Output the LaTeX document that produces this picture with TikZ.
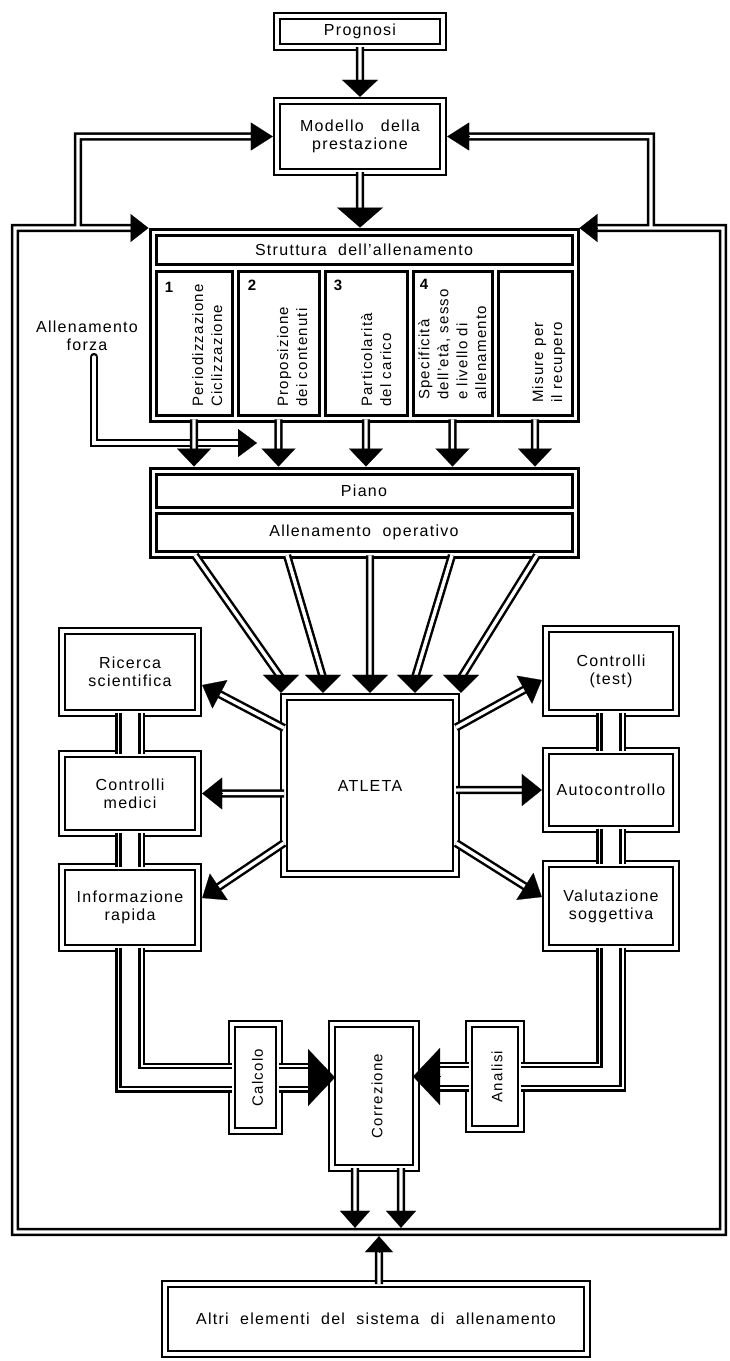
\documentclass[tikz,border=0pt]{standalone}
\usepackage{fontspec}
\setmainfont{Liberation Sans}[LetterSpace=8]
\usetikzlibrary{arrows.meta,calc}
\newcommand\labfont{\fontsize{16}{18}\selectfont}
\newcommand\vlabfont{\fontsize{15}{19}\selectfont}
\begin{document}
\begin{tikzpicture}[x=1pt,y=-1pt,
  dbox/.style={draw,double,line width=2.6pt,double distance=3.2pt,fill=white,inner sep=0pt,outer sep=0pt,align=center,font=\labfont},
  sbox/.style={draw,line width=3pt,fill=white,inner sep=0pt,outer sep=0pt,align=center,font=\labfont},
  wh/.style 2 args={minimum width=#1pt,minimum height=#2pt},
  pipe/.style={draw,double,line width=2.5pt,double distance=3.4pt},
  widepipe/.style={preaction={draw=black,line width=30pt},preaction={draw=white,line width=25pt},preaction={draw=black,line width=21.5pt},draw=white,line width=16.5pt},
  vlab/.style={rotate=90,anchor=north west,font=\vlabfont,align=left,inner sep=0pt},
  rlab/.style={rotate=90,font=\vlabfont,inner sep=0pt},
  num/.style={font=\vlabfont\bfseries,inner sep=0pt},
  lab/.style={font=\labfont,align=center,inner sep=0pt},
  ah/.style 2 args={-{Triangle[width=#1pt,length=#2pt]},line width=0.2pt},
]
\fill[white] (0,0) rectangle (730,1361);
\useasboundingbox (0,0) rectangle (730,1361);

% ---------- boxes ----------
\node[dbox,wh={166}{31}] (prog) at (360,31.5) {Prognosi};
\node[dbox,wh={166}{71}] (mod) at (360,136.5) {Modello\ \ \ della\\prestazione};

\node[sbox,wh={428}{192}] (strut) at (364,325) {};
\node[sbox,wh={416}{29}] (title) at (364,249.5) {Struttura\ \ dell'allenamento};
\node[sbox,wh={76}{144}] (col1) at (194,343) {};
\node[sbox,wh={81}{144}] (col2) at (278.5,343) {};
\node[sbox,wh={82}{144}] (col3) at (366,343) {};
\node[sbox,wh={79}{144}] (col4) at (452.5,343) {};
\node[sbox,wh={74}{144}] (col5) at (535,343) {};
\node[num] (n1) at (169,287) {1};
\node[num] (n2) at (252,285) {2};
\node[num] (n3) at (338,285) {3};
\node[num] (n4) at (424,284) {4};
\node[vlab] (v1) at (192,407) {Periodizzazione\\Ciclizzazione};
\node[vlab] (v2) at (277,407) {Proposizione\\dei contenuti};
\node[vlab] (v3) at (361,407) {Particolarità\\del carico};
\node[vlab] (v4) at (418,400) {Specificità\\dell'età, sesso\\e livello di\\allenamento};
\node[vlab] (v5) at (532,403) {Misure per\\il recupero};

\node[lab] (forza) at (87,336) {Allenamento\\forza};

\node[sbox,wh={428}{89}] (piano) at (364,512.5) {};
\node[sbox,wh={416}{33}] (pbar) at (364,490.5) {Piano};
\node[sbox,wh={416}{38}] (obar) at (364,532) {Allenamento\ \ operativo};

\node[dbox,wh={172}{177}] (atleta) at (370,785.5) {ATLETA};
\node[dbox,wh={136}{82}] (ric) at (130,672) {Ricerca\\scientifica};
\node[dbox,wh={136}{79}] (med) at (130,793.5) {Controlli\\medici};
\node[dbox,wh={136}{81}] (info) at (130,907.5) {Informazione\\rapida};
\node[dbox,wh={130}{84}] (test) at (611,671) {Controlli\\(test)};
\node[dbox,wh={130}{78}] (auto) at (611,790) {Autocontrollo};
\node[dbox,wh={130}{84}] (valu) at (611,906) {Valutazione\\soggettiva};

\node[dbox,wh={47}{107}] (calc) at (255.5,1077.5) {};
\node[dbox,wh={84}{144}] (corr) at (374,1096) {};
\node[dbox,wh={52}{105}] (anal) at (495,1076.5) {};
\node[rlab] (lcalc) at ($(calc.center)+(2,0)$) {Calcolo};
\node[rlab] (lcorr) at ($(corr.center)+(3,0)$) {Correzione};
\node[rlab] (lanal) at ($(anal.center)+(2,0)$) {Analisi};

\node[dbox,wh={422}{70}] (altri) at (376,1319) {Altri\ \ elementi\ \ del\ \ sistema\ \ di\ \ allenamento};

% ---------- coordinates ----------
\coordinate (fTL) at (15,228);
\coordinate (fBL) at (15,1232);
\coordinate (fBR) at (723,1232);
\coordinate (fTR) at (723,228);
\coordinate (lbr) at (78,228);
\coordinate (rbr) at (651,228);
\coordinate (fzs) at (94,357);
\coordinate (fzt) at (257,443);

\coordinate (t1) at ($(prog.south |- mod.north)+(0,-4.2)$);
\coordinate (t2) at ($(mod.south |- strut.north)+(0,-1.5)$);
\coordinate (t3) at ($(strut.west |- fTL)+(-1.5,0)$);
\coordinate (t4) at ($(strut.east |- fTR)+(1.5,0)$);
\coordinate (t5) at ($(mod.west)+(-4.2,0)$);
\coordinate (t6) at ($(mod.east)+(4.2,0)$);
\foreach \i in {1,...,5}{
  \coordinate (c\i) at ($(piano.north -| col\i)+(0,-1.5)$);
}
\coordinate (a1) at ($(atleta.north)+(-89,-4.2)$);
\coordinate (a2) at ($(atleta.north)+(-47,-4.2)$);
\coordinate (a3) at ($(atleta.north)+(0,-4.2)$);
\coordinate (a4) at ($(atleta.north)+(45,-4.2)$);
\coordinate (a5) at ($(atleta.north)+(91,-4.2)$);
\coordinate (p1) at ($(piano.south)+(-169,-1.7)$);
\coordinate (p2) at ($(piano.south)+(-77,-1.7)$);
\coordinate (p3) at ($(piano.south)+(6,-1.7)$);
\coordinate (p4) at ($(piano.south)+(88,-1.7)$);
\coordinate (p5) at ($(piano.south)+(173,-1.7)$);

\coordinate (s18) at ($(atleta.west)+(0,-57.5)$);
\coordinate (e18) at ($(ric.east)+(4.2,13)$);
\coordinate (s19) at (atleta.west |- med.east);
\coordinate (e19) at ($(med.east)+(4.2,0)$);
\coordinate (s20) at ($(atleta.west)+(0,57.5)$);
\coordinate (e20) at ($(info.east)+(4.2,-9.5)$);
\coordinate (s21) at ($(atleta.east)+(0,-58)$);
\coordinate (e21) at ($(test.west)+(-4.2,9)$);
\coordinate (s22) at (atleta.east |- auto.west);
\coordinate (e22) at ($(auto.west)+(-4.2,0)$);
\coordinate (s23) at ($(atleta.east)+(0,57.5)$);
\coordinate (e23) at ($(valu.west)+(-4.2,-9)$);

\coordinate (t24) at ($(corr.west |- calc.east)+(3,0)$);
\coordinate (t25) at ($(corr.east |- anal.west)+(-3,0)$);
\coordinate (s26) at ($(corr.south)+(-19,0)$);
\coordinate (t26) at ($(s26 |- fBL)+(0,-4.2)$);
\coordinate (s27) at ($(corr.south)+(27,0)$);
\coordinate (t27) at ($(s27 |- fBL)+(0,-4.2)$);
\coordinate (s28) at ($(altri.north)+(3,0)$);
\coordinate (t28) at ($(s28 |- fBL)+(0,4.2)$);

% ---------- pipes ----------
\draw[pipe,line cap=round] (fzs) |- ($(fzt)+(-16,0)$);

\draw[pipe]
  ($(t3)+(-15,0)$) -- (fTL) -- (fBL) -- (fBR) -- (fTR) -- ($(t4)+(15,0)$)
  (lbr) -- (lbr |- t5) -- ($(t5)+(-19,0)$)
  (rbr) -- (rbr |- t6) -- ($(t6)+(19,0)$)
  (prog.south) -- ($(t1)+(0,-14)$)
  (mod.south) -- ($(t2)+(0,-17)$)
  ($(strut.south -| col1)+(0,-1.7)$) -- ($(c1)+(0,-15)$)
  ($(strut.south -| col2)+(0,-1.7)$) -- ($(c2)+(0,-15)$)
  ($(strut.south -| col3)+(0,-1.7)$) -- ($(c3)+(0,-15)$)
  ($(strut.south -| col4)+(0,-1.7)$) -- ($(c4)+(0,-15)$)
  ($(strut.south -| col5)+(0,-1.7)$) -- ($(c5)+(0,-15)$)
  (p1) -- ($(a1)+(0,-15)$)
  (p2) -- ($(a2)+(0,-15)$)
  (p3) -- ($(a3)+(0,-15)$)
  (p4) -- ($(a4)+(0,-15)$)
  (p5) -- ($(a5)+(0,-15)$)
  (s18) -- ($(e18)!17pt!(s18)$)
  (s19) -- ($(e19)!17pt!(s19)$)
  (s20) -- ($(e20)!17pt!(s20)$)
  (s21) -- ($(e21)!17pt!(s21)$)
  (s22) -- ($(e22)!17pt!(s22)$)
  (s23) -- ($(e23)!17pt!(s23)$)
  (s26) -- ($(t26)+(0,-14)$)
  (s27) -- ($(t27)+(0,-14)$)
  (s28) -- ($(t28)+(0,13)$);

\draw[widepipe] (ric.south) -- (med.north);
\draw[widepipe] (med.south) -- (info.north);
\draw[widepipe] (test.south) -- (auto.north);
\draw[widepipe] (auto.south) -- (valu.north);
\draw[widepipe] (info.south) |- (calc.west);
\draw[widepipe] (valu.south) |- (anal.east);
\draw[widepipe] (calc.east) -- ($(t24)+(-25,0)$);
\draw[widepipe] (anal.west) -- ($(t25)+(25,0)$);

% ---------- arrowheads ----------
\draw[ah={36}{17}] ($(t1)+(0,-17)$) -- (t1);
\draw[ah={46}{20}] ($(t2)+(0,-20)$) -- (t2);
\draw[ah={28}{18}] ($(t3)+(-18,0)$) -- (t3);
\draw[ah={28}{18}] ($(t4)+(18,0)$) -- (t4);
\draw[ah={28}{22}] ($(t5)+(-22,0)$) -- (t5);
\draw[ah={28}{22}] ($(t6)+(22,0)$) -- (t6);
\foreach \i in {1,...,5}{
  \draw[ah={34}{18}] ($(c\i)+(0,-18)$) -- (c\i);
  \draw[ah={36}{18}] ($(a\i)+(0,-18)$) -- (a\i);
}
\draw[ah={28}{19}] ($(fzt)+(-19,0)$) -- (fzt);
\foreach \k in {18,...,23}{
  \draw[ah={32}{20}] ($(e\k)!20pt!(s\k)$) -- (e\k);
}
\draw[ah={57}{27}] ($(t24)+(-27,0)$) -- (t24);
\draw[ah={57}{27}] ($(t25)+(27,0)$) -- (t25);
\draw[ah={30}{17}] ($(t26)+(0,-17)$) -- (t26);
\draw[ah={30}{17}] ($(t27)+(0,-17)$) -- (t27);
\draw[ah={28}{16}] ($(t28)+(0,16)$) -- (t28);
\end{tikzpicture}
\end{document}
